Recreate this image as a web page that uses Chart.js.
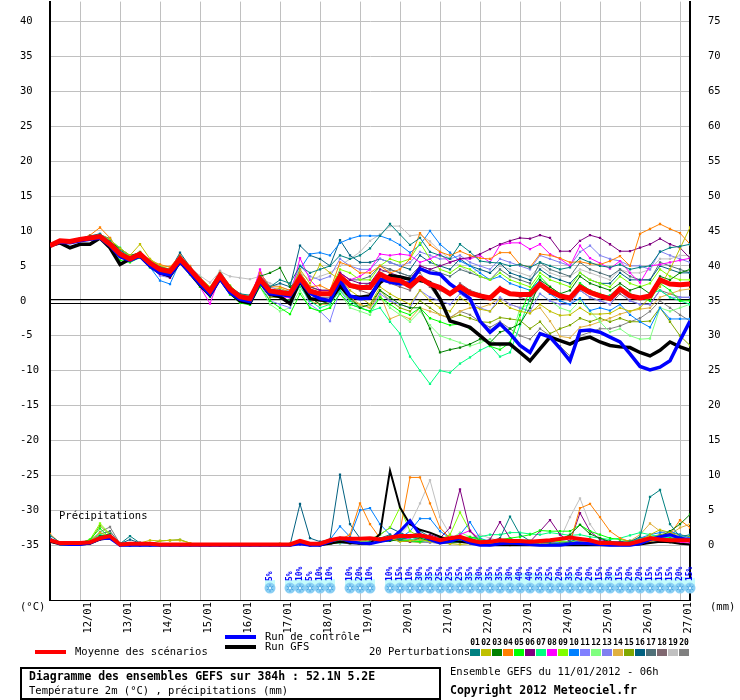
<!DOCTYPE html>
<html><head><meta charset="utf-8">
<script src="https://cdn.jsdelivr.net/npm/chart.js@4.4.1/dist/chart.umd.min.js"></script>
<style>html,body{margin:0;padding:0;background:#fff;}canvas{display:block;}</style>
</head><body>
<canvas id="c" width="740" height="700"></canvas>
<script>
// ---------------- DATA ----------------
const hours = [0,6,12,18,24,30,36,42,48,54,60,66,72,78,84,90,96,102,108,114,120,126,132,138,144,150,156,162,168,174,180,186,192,198,204,210,216,222,228,234,240,246,252,258,264,270,276,282,288,294,300,306,312,318,324,330,336,342,348,354,360,366,372,378,384];
const dateTicks = [18,42,66,90,114,138,162,186,210,234,258,282,306,330,354,378];
const dateLabels = ['12/01','13/01','14/01','15/01','16/01','17/01','18/01','19/01','20/01','21/01','22/01','23/01','24/01','25/01','26/01','27/01'];
const tempTicks = [-35,-30,-25,-20,-15,-10,-5,0,5,10,15,20,25,30,35,40];
const mmTicks = [0,5,10,15,20,25,30,35,40,45,50,55,60,65,70,75];

const tempMean = [7.9,8.6,8.5,8.8,9.0,9.2,8.1,6.7,6.0,6.7,5.4,4.5,4.2,6.0,4.5,2.9,1.4,3.6,1.7,0.6,0.3,3.1,1.4,1.2,1.0,3.3,1.4,1.0,1.0,3.5,2.2,1.9,1.9,3.8,3.1,2.9,2.1,3.3,2.4,1.9,1.0,2.0,1.1,0.7,0.4,1.7,1.0,0.9,0.9,2.4,1.4,0.7,0.4,2.0,1.2,0.7,0.3,1.7,0.7,0.4,0.7,3.0,2.4,2.3,2.4];
const tempControl = [7.9,8.4,8.3,8.6,8.8,9.0,7.9,6.3,5.8,6.4,5.0,4.0,3.7,5.6,4.0,2.4,0.9,3.2,1.2,0.2,-0.1,2.7,1.0,0.9,0.7,2.9,1.1,0.3,0.0,2.9,0.7,0.3,0.4,3.1,2.7,2.4,2.6,4.6,4.0,3.8,2.4,1.4,0.3,-2.9,-4.5,-3.3,-4.7,-6.4,-7.4,-4.7,-5.2,-6.8,-8.6,-4.3,-4.2,-4.5,-5.2,-5.9,-7.6,-9.4,-9.9,-9.5,-8.6,-5.7,-2.9];
const tempGFS = [7.9,8.3,7.6,8.1,8.1,9.0,7.6,5.2,6.0,6.4,5.0,4.0,3.6,5.6,4.0,2.3,0.8,3.2,1.2,0.0,-0.3,2.7,0.9,0.6,-0.4,2.9,0.3,0.1,0.0,2.1,0.6,0.5,0.7,2.6,3.6,3.4,3.1,2.9,2.6,0.3,-2.9,-3.3,-3.8,-5.0,-6.2,-6.2,-6.2,-7.4,-8.6,-6.9,-5.2,-5.7,-6.2,-5.5,-5.2,-5.9,-6.4,-6.6,-6.7,-7.4,-7.9,-7.1,-5.9,-6.6,-7.1];

const tempP01 = [7.9,8.7,8.6,8.9,9.3,9.6,8.5,7.0,6.2,6.8,5.6,4.8,4.5,6.3,4.8,3.2,1.7,3.9,2.0,1.0,0.8,3.5,2.0,3.0,2.5,5.0,4.0,4.5,5.0,6.5,6.0,6.5,7.5,9.3,11.0,9.5,8.0,9.0,7.0,6.5,6.0,8.1,7.0,5.7,5.5,5.4,5.0,5.2,4.8,5.5,5.0,4.5,4.8,6.1,5.5,5.0,4.8,5.2,4.5,4.8,5.0,7.0,7.6,7.8,8.1];
const tempP02 = [7.9,8.5,8.4,8.7,9.0,9.5,8.8,7.5,6.5,8.1,6.0,5.0,4.5,6.0,4.2,2.5,1.0,3.5,1.5,0.5,0.0,3.0,1.5,1.8,1.2,4.5,2.5,5.2,4.0,3.0,1.5,0.5,-0.5,2.0,1.0,0.2,-0.5,1.5,0.0,-1.0,-1.5,0.5,-0.5,-1.2,-1.5,0.0,-1.0,-1.5,-1.8,-0.5,-1.5,-2.1,-2.0,-1.0,-1.9,-1.9,-1.8,-1.0,-1.5,-1.0,0.5,2.0,4.5,7.5,10.5];
const tempP03 = [7.9,8.6,8.6,8.9,9.1,9.2,8.4,7.5,6.5,6.9,5.2,4.3,4.0,6.3,4.5,2.6,1.2,3.8,2.0,0.8,0.5,3.5,4.0,4.7,2.0,3.0,0.5,-0.5,0.0,2.5,0.5,-1.0,-0.5,1.5,0.5,-0.5,-1.0,-1.0,-4.0,-7.4,-7.0,-6.7,-6.2,-5.5,-6.0,-4.5,-4.0,-3.3,-1.0,3.0,2.0,1.0,1.5,3.5,2.5,2.0,1.5,2.5,1.5,2.0,1.0,3.5,3.0,4.0,4.5];
const tempP04 = [7.9,8.6,8.5,8.8,9.4,10.5,9.0,6.9,6.1,6.8,5.8,5.2,4.8,6.5,5.0,3.0,1.5,3.5,1.3,0.2,0.0,4.0,2.0,2.0,1.5,4.0,2.0,2.2,1.5,5.5,5.0,4.0,4.0,5.0,4.0,4.5,6.0,9.7,8.0,7.0,6.5,7.1,6.5,6.1,6.0,6.9,6.9,5.2,4.8,6.7,6.5,6.1,5.5,5.6,5.3,5.2,5.7,6.4,5.0,9.6,10.3,11.0,10.3,9.7,8.1];
const tempP05 = [7.9,8.5,8.4,8.6,8.8,9.0,7.6,5.8,5.5,6.2,4.8,4.0,3.6,5.5,3.8,2.0,0.6,3.0,0.9,-0.3,-0.6,2.0,0.0,-1.0,-1.9,1.0,-1.0,-1.5,-1.0,1.0,-0.5,-1.0,-1.5,0.5,-0.5,-1.5,-2.0,-1.0,-2.5,-3.0,-3.5,-3.3,-4.0,-5.0,-6.5,-7.0,-6.0,-2.0,1.5,3.5,2.0,1.0,0.5,2.5,1.5,1.0,0.5,2.0,1.0,0.5,0.0,2.5,1.5,0.0,0.0];
const tempP06 = [7.9,8.6,8.5,8.7,8.9,9.1,8.0,6.5,5.9,6.5,5.1,4.0,3.3,5.8,4.0,2.5,0.9,3.3,1.4,0.3,0.0,3.5,1.5,1.5,1.0,3.5,2.0,1.5,1.5,4.0,3.0,2.5,2.5,4.5,4.0,3.5,3.0,5.0,4.5,5.0,5.5,6.0,6.2,6.7,7.4,8.1,8.6,9.0,8.9,9.4,9.0,7.1,7.1,8.6,9.4,9.0,8.1,7.1,7.1,7.6,8.1,8.9,8.1,7.6,6.1];
const tempP07 = [7.9,8.6,8.6,8.9,9.1,9.3,8.7,7.6,6.2,6.9,5.8,4.9,4.5,6.2,4.7,3.1,1.6,3.8,1.9,0.5,0.1,3.0,1.0,0.5,0.0,2.0,0.0,-1.0,-0.5,1.5,0.0,-1.0,-1.5,-1.0,-3.0,-4.7,-8.0,-10.0,-11.9,-10.0,-10.3,-9.0,-8.1,-7.1,-6.4,-8.0,-7.4,-3.5,0.4,2.0,1.5,1.0,0.5,2.5,1.5,0.5,0.8,2.0,1.0,0.5,1.0,1.5,0.5,0.0,-0.5];
const tempP08 = [7.9,8.7,8.6,8.9,9.1,9.3,8.0,6.5,5.8,6.7,5.3,3.8,3.5,5.8,3.9,2.0,-0.4,3.5,1.2,-0.2,0.0,4.5,1.0,0.5,0.5,6.1,3.0,1.5,1.5,4.0,3.0,3.5,4.5,6.7,6.5,6.7,6.5,5.5,6.0,6.7,5.5,6.0,6.0,6.5,5.5,8.0,8.3,8.3,7.4,8.1,6.7,6.0,5.0,7.9,6.1,5.4,4.6,5.7,4.0,2.6,5.0,5.2,5.5,5.8,6.1];
const tempP09 = [7.9,8.6,8.5,8.8,9.0,9.3,8.3,7.0,6.3,7.0,5.6,4.6,4.3,6.2,4.6,3.3,2.0,4.0,2.2,0.9,0.6,3.5,1.5,1.0,1.0,3.5,2.0,1.5,1.5,4.5,4.0,3.0,3.0,5.0,6.0,5.5,6.0,8.3,6.0,4.5,4.0,5.0,4.5,3.5,3.0,4.0,3.0,2.5,2.0,4.0,3.0,2.5,2.0,4.0,3.0,2.5,2.0,3.5,2.5,2.0,2.5,4.5,3.5,3.0,3.0];
const tempP10 = [7.9,8.6,8.5,8.8,9.0,9.1,8.0,6.6,5.8,6.5,4.8,2.9,2.4,5.6,4.2,2.7,1.2,3.4,1.5,0.4,0.0,3.0,1.5,1.0,1.0,4.5,6.7,6.9,6.5,8.3,8.9,9.3,9.3,9.3,8.8,8.0,6.9,8.0,10.0,8.1,6.9,5.7,5.0,4.0,3.0,3.5,2.5,2.0,1.5,3.0,1.0,0.0,-0.5,0.4,-1.4,-1.0,-1.4,-0.5,-2.0,-3.0,-3.8,-1.0,-2.6,-2.6,-2.6];
const tempP11 = [7.9,8.6,8.6,8.8,9.1,9.6,8.6,6.9,5.7,6.3,4.9,3.6,3.3,5.7,4.2,2.6,1.0,3.2,1.2,0.1,-0.3,2.5,0.0,-0.5,-1.0,2.5,-0.5,-1.5,-2.9,1.5,-0.5,-1.0,-1.5,1.0,0.0,-0.5,-1.0,1.5,0.5,0.0,-0.5,1.0,0.0,-1.0,-1.5,0.5,-0.5,-1.0,-1.5,1.0,0.0,-0.5,-0.5,1.5,0.5,0.0,-0.5,1.5,0.0,-0.5,-0.5,1.5,0.5,0.5,0.5];
const tempP12 = [7.9,8.6,8.5,8.8,8.9,9.1,8.0,6.6,6.0,6.6,5.3,4.4,4.0,5.8,4.3,2.6,1.0,3.3,1.3,0.0,-0.2,2.0,-0.5,-1.5,-1.0,1.5,-1.0,-1.5,-1.0,1.0,-1.0,-1.5,-2.0,0.5,-1.0,-2.0,-3.0,-1.5,-3.5,-5.0,-5.5,-6.0,-6.5,-6.0,-5.5,-6.5,-6.0,-1.0,-0.5,1.0,0.0,-1.0,-1.5,0.0,-1.5,-3.0,-4.5,-4.0,-5.0,-5.5,-5.4,-1.0,-1.5,-1.0,-0.5];
const tempP13 = [7.9,8.6,8.5,8.9,9.1,9.4,8.3,6.8,6.1,6.8,5.5,4.6,4.3,6.1,4.6,3.0,1.5,3.7,1.8,0.8,0.5,4.0,2.0,1.5,1.5,5.0,3.5,3.0,3.5,6.0,5.0,4.5,4.5,6.0,5.5,5.0,5.5,7.0,6.5,6.0,6.0,6.5,5.5,5.0,4.5,6.0,5.5,5.0,4.5,6.5,6.0,5.5,5.0,7.0,7.9,6.5,6.0,5.7,5.0,5.0,4.5,7.1,6.5,6.0,5.5];
const tempP14 = [7.9,8.6,8.5,8.8,9.0,9.2,8.2,6.8,6.2,7.0,5.8,5.0,4.9,6.1,4.3,2.5,1.2,3.5,1.5,0.5,0.2,3.0,1.0,0.5,0.0,3.0,0.0,-0.5,-0.5,2.5,0.5,-0.5,-1.0,1.0,-2.6,-2.0,-2.6,-1.0,-1.5,-2.0,-2.5,-1.5,-1.0,-1.0,-0.5,0.4,-0.5,-1.0,-1.5,-1.0,-2.9,-5.1,-5.3,-3.8,-3.5,-3.0,-2.5,-1.9,-1.5,-1.2,-1.0,0.5,1.0,1.5,1.7];
const tempP15 = [7.9,8.6,8.5,8.8,9.0,9.2,8.1,6.7,6.1,6.8,5.4,4.4,4.1,6.0,4.4,2.8,1.3,3.5,1.6,0.5,0.1,2.5,0.5,0.5,0.0,2.5,0.5,-0.5,0.0,2.0,0.0,-0.5,-1.0,1.5,0.0,-1.0,-1.5,0.0,-1.0,-2.0,-2.5,-2.0,-2.5,-3.0,-3.1,-2.4,-2.6,-2.8,-4.0,-3.0,-4.7,-4.0,-3.5,-2.5,-3.0,-2.5,-3.0,-2.5,-3.0,-3.0,-2.9,-1.0,-3.0,-5.0,-6.4];
const tempP16 = [7.9,8.6,8.5,8.8,9.1,9.3,8.9,7.3,6.3,6.9,5.6,4.7,4.4,6.9,4.9,3.2,1.6,3.9,2.0,0.8,0.4,4.0,2.0,2.5,2.0,7.9,6.5,6.0,5.0,8.7,6.5,5.5,5.5,6.0,5.5,5.0,4.5,6.5,5.5,5.0,4.5,6.0,5.0,4.5,4.0,5.4,4.0,3.5,3.0,4.5,3.5,3.0,2.5,4.0,3.0,2.5,2.5,4.0,3.0,3.0,3.0,5.0,4.5,4.0,4.0];
const tempP17 = [7.9,8.6,8.5,8.8,9.0,9.2,8.2,6.8,6.1,6.8,5.5,4.6,4.3,6.1,4.6,3.0,1.5,3.7,1.8,0.7,0.4,3.5,1.5,1.0,1.0,4.0,2.0,1.5,1.5,4.0,3.0,3.0,3.5,5.0,4.5,4.0,3.5,5.0,4.5,4.0,3.5,4.5,4.0,3.5,3.0,4.5,3.5,3.0,2.5,5.5,4.5,4.0,3.5,5.5,4.5,4.0,3.5,4.5,3.5,3.0,3.0,5.5,5.0,4.5,4.0];
const tempP18 = [7.9,8.6,8.5,8.8,9.0,9.2,8.1,6.8,6.0,6.7,5.4,4.5,4.2,6.0,4.5,2.9,1.4,3.6,1.7,0.6,0.3,3.0,1.0,1.0,0.5,3.0,1.0,0.5,0.5,3.0,2.0,1.5,1.0,3.0,2.5,2.0,1.5,3.0,2.0,1.5,1.0,2.5,1.5,1.0,0.5,2.0,1.0,0.5,0.0,2.0,1.0,0.5,0.0,1.5,0.5,0.0,-0.5,1.0,0.0,-0.5,-0.5,1.5,1.0,0.5,0.5];
const tempP19 = [7.9,8.6,8.5,8.8,9.0,9.2,8.2,6.9,6.1,6.8,5.5,4.7,4.5,6.2,4.8,3.6,2.6,4.2,3.5,3.3,3.1,3.5,2.5,2.0,1.5,4.0,3.0,3.5,4.0,5.0,6.0,7.0,8.6,9.5,10.7,10.7,9.3,9.5,8.5,7.1,6.0,5.0,4.0,4.5,4.0,5.0,4.5,4.0,3.5,5.0,4.0,3.5,3.5,4.5,4.0,3.5,3.0,4.5,4.0,4.0,4.5,6.0,6.0,6.5,6.5];
const tempP20 = [7.9,8.6,8.5,8.8,9.1,9.5,8.9,7.2,6.2,6.9,5.6,4.7,4.4,6.6,4.8,3.3,1.8,4.3,2.0,1.0,0.6,3.5,1.5,1.0,0.5,4.0,1.5,1.0,1.0,3.5,2.0,2.0,2.5,4.0,4.5,4.0,3.5,4.0,2.0,0.0,-2.4,-1.5,-2.0,-3.0,-3.8,-3.0,-4.0,-5.0,-5.5,-4.0,-5.0,-6.5,-7.9,-5.0,-4.5,-4.0,-4.0,-3.6,-3.0,-2.5,-1.5,0.0,-1.0,-2.0,-2.9];

const precMean = [0.7,0.3,0.3,0.3,0.4,1.0,1.3,0.1,0.2,0.2,0.2,0.1,0.1,0.1,0.1,0.1,0.1,0.1,0.1,0.1,0.1,0.1,0.1,0.1,0.1,0.6,0.2,0.2,0.7,1.0,0.9,0.9,1.0,0.8,1.1,1.3,1.3,1.4,1.1,0.7,1.0,1.2,0.7,0.4,0.5,0.7,0.6,0.6,0.5,0.6,0.7,0.9,1.1,0.9,0.7,0.3,0.3,0.2,0.2,0.6,1.0,0.8,0.7,0.7,0.7];
const precControl = [0.8,0.2,0.1,0.1,0.3,0.9,1.0,0,0,0,0,0,0,0,0,0,0,0,0,0,0,0,0,0,0,0.2,0,0,0.5,1.0,0.5,0.3,0.2,0.5,0.8,2.0,3.5,1.5,0.8,0.3,0.5,1.0,0.3,0,0,0.2,0.3,0.2,0.1,0,0,0,0.2,0.3,0.2,0.1,0,0,0,0.2,0.8,1.2,1.5,1.0,0.8];
const precGFS = [0.5,0.1,0.1,0.1,0.2,0.8,1.0,0,0,0,0,0,0,0,0,0,0,0,0,0,0,0,0,0,0,0.3,0,0,0.2,0.5,0.3,0.2,0.2,1.6,10.7,5.4,3.0,2.2,1.8,1.2,0.7,0.5,0.3,0.1,0,0,0,0,0,0,0,0,0,0,0,0,0,0,0,0.1,0.3,0.5,0.4,0.2,0.1];
const precP01 = [1.4,0.4,0.2,0.2,0.4,1.2,1.5,0.2,1.3,0.3,0.2,0.1,0,0,0,0,0,0,0,0,0,0,0,0,0,0.2,0.1,0,0.3,0.8,0.5,0.3,0.5,1.0,1.5,0.8,1.2,2.0,1.2,0.8,0.5,0.5,0.8,0.3,0.5,1.0,4.1,1.5,0.6,0.5,0.3,0.2,0.5,1.0,0.6,0.3,0.2,0.3,0.5,1.2,6.9,7.9,3.0,1.2,1.5];
const precP02 = [0.6,0.3,0.1,0.3,0.5,1.8,1.2,0.2,0.2,0.3,0.7,0.6,0.7,0.7,0.3,0,0,0,0,0,0,0,0,0,0,0.3,0,0,0.2,0.4,0.3,0.2,0.4,0.8,1.0,0.5,0.6,0.8,0.5,0.3,0.2,0.1,0.2,0.1,0.2,0.1,0,0.1,0.2,0.3,0.2,0.1,0.1,0.5,0.8,0.4,0.2,0.1,0.1,0.6,1.5,2.2,1.8,1.2,0.8];
const precP03 = [0.5,0.2,0.1,0.2,0.4,1.3,1.6,0.1,0.1,0.1,0.1,0,0,0,0,0,0,0,0,0,0,0,0,0,0,0.2,0,0,0.3,0.6,0.4,0.3,0.2,0.5,0.6,0.8,1.2,1.0,0.6,0.4,0.3,0.5,0.6,0.3,0.2,0.3,0.5,0.4,0.2,0.3,0.5,0.8,1.5,2.9,1.6,1.0,0.5,0.3,0.4,0.6,0.8,1.2,2.0,3.0,4.4];
const precP04 = [1.6,0.3,0.1,0.2,0.6,1.0,1.2,0.1,0.1,0,0,0,0,0,0,0,0,0,0,0,0,0,0,0,0,0.3,0,0.1,0.3,0.8,1.5,6.0,3.0,1.0,0.8,2.0,9.7,9.7,6.0,2.5,1.0,0.8,0.5,0.3,0.5,0.4,0.3,0.3,0.2,0.4,0.3,0.2,0.4,5.3,5.9,4.0,2.0,1.0,0.5,0.3,0.5,1.0,1.5,3.6,2.5];
const precP05 = [0.6,0.2,0.2,0.3,0.8,2.4,1.0,0.1,0.1,0.1,0,0,0,0,0,0,0,0,0,0,0,0,0,0,0,0.2,0,0,0.2,0.5,0.3,0.2,0.3,0.6,1.0,0.8,0.6,0.5,0.8,1.0,0.6,1.0,1.2,0.8,0.6,0.8,1.0,1.2,1.5,2.1,2.0,2.0,2.0,2.9,2.0,1.5,1.0,0.8,0.6,0.5,0.6,0.8,1.0,0.9,0.8];
const precP06 = [0.4,0.2,0.1,0.1,0.3,0.8,0.9,0,0,0,0,0,0,0,0,0,0,0,0,0,0,0,0,0,0,0.1,0,0,0.2,0.4,0.3,0.2,0.2,0.5,0.8,0.6,0.5,1.0,1.5,1.0,2.5,8.0,2.0,0.5,0.8,3.3,1.0,0.4,0.5,2.0,3.6,1.5,0.5,4.6,2.0,0.8,0.5,0.4,0.3,0.5,0.8,1.0,0.8,0.6,0.5];
const precP07 = [0.5,0.3,0.1,0.2,0.5,1.5,1.3,0.2,0.2,0.1,0,0,0,0,0,0,0,0,0,0,0,0,0,0,0,0.2,0,0,0.2,0.3,0.4,0.3,0.3,0.5,0.7,0.6,0.8,1.0,0.8,0.6,0.5,0.7,1.0,1.2,1.5,1.5,1.8,1.8,1.6,1.5,1.8,1.6,1.4,1.5,1.2,1.0,0.8,1.0,1.4,1.8,1.5,1.2,1.0,0.8,0.6];
const precP08 = [0.7,0.2,0.1,0.1,0.3,0.9,1.0,0,0,0,0,0,0,0,0,0,0,0,0,0,0,0,0,0,0,0.2,0,0,0.3,0.5,0.4,0.3,0.4,0.7,1.0,0.8,1.0,1.6,1.2,0.8,0.6,1.5,2.1,0.8,0.4,0.3,0.5,0.4,0.3,0.2,0.3,0.2,0.2,0.5,0.4,0.3,0.2,0.2,0.3,0.5,0.8,0.6,0.5,0.4,0.3];
const precP09 = [0.8,0.3,0.2,0.3,0.8,3.1,1.6,0.1,0.1,0.1,0,0,0,0,0,0,0,0,0,0,0,0,0,0,0,0.3,0,0,0.4,0.8,0.6,0.5,0.8,1.5,2.5,5.4,2.0,1.2,1.0,0.8,1.5,4.7,2.0,0.6,0.4,0.5,0.6,0.5,0.4,0.5,0.6,0.5,0.4,1.0,0.8,0.5,0.4,0.3,0.5,0.8,1.0,0.9,0.8,0.7,0.6];
const precP10 = [0.9,0.2,0.1,0.2,0.4,1.1,1.3,0.1,0,0,0,0,0,0,0,0,0,0,0,0,0,0,0,0,0,0.3,0.1,0.2,0.8,2.7,1.2,5.0,5.3,3.0,1.5,1.0,2.0,3.8,3.8,2.0,1.0,1.5,3.3,1.0,0.5,0.4,0.5,0.3,0.3,0.4,0.5,0.4,0.3,0.6,0.8,0.5,0.4,0.3,0.5,1.0,1.5,1.8,2.0,1.5,1.0];
const precP11 = [0.5,0.2,0.1,0.2,0.4,1.0,1.1,0,0,0,0,0,0,0,0,0,0,0,0,0,0,0,0,0,0,0.1,0,0,0.2,0.3,0.2,0.2,0.3,0.5,0.6,0.8,0.6,0.5,0.4,0.3,0.4,0.6,0.5,0.3,0.2,0.2,0.3,0.2,0.1,0.2,0.3,0.2,0.2,0.4,0.3,0.2,0.1,0.1,0.3,0.6,0.8,1.0,1.2,1.0,0.8];
const precP12 = [0.6,0.2,0.1,0.2,0.5,1.2,1.0,0.1,0,0,0,0,0,0,0,0,0,0,0,0,0,0,0,0,0,0.1,0,0,0.2,0.4,0.3,0.4,0.5,0.8,1.2,1.0,0.8,0.6,0.5,0.6,0.8,1.8,1.2,0.6,0.4,0.5,0.6,0.8,0.7,0.6,0.5,0.6,0.5,0.8,0.6,0.5,0.4,0.3,0.4,0.5,0.6,0.8,1.0,0.9,0.7];
const precP13 = [0.5,0.2,0.1,0.2,0.4,1.1,1.2,0,0,0,0,0,0,0,0,0,0,0,0,0,0,0,0,0,0,0.2,0,0,0.2,0.3,0.2,0.3,0.4,0.6,0.8,1.0,0.8,0.6,0.5,0.4,0.3,0.5,0.6,0.4,0.3,0.2,0.3,0.2,0.2,0.3,0.2,0.2,0.3,0.5,0.4,0.3,0.2,0.2,0.3,0.5,1.0,1.3,1.2,1.0,0.9];
const precP14 = [0.7,0.3,0.1,0.2,0.5,1.4,1.2,0.1,0.1,0,0,0,0,0,0,0,0,0,0,0,0,0,0,0,0,0.2,0,0,0.3,0.5,0.4,0.3,0.5,0.8,1.0,0.8,0.6,0.5,0.6,0.8,0.5,0.4,0.6,0.4,0.3,0.2,0.3,0.4,0.3,0.2,0.3,0.2,0.4,0.6,0.5,0.3,0.2,0.3,0.6,1.5,3.1,2.0,1.5,2.5,3.0];
const precP15 = [0.6,0.2,0.1,0.2,0.6,2.8,1.4,0.1,0.1,0.2,0.2,0.6,0.7,0.8,0.3,0,0,0,0,0,0,0,0,0.2,0.2,0.4,0.1,0.1,0.5,0.7,0.5,0.4,0.5,0.8,1.0,0.7,0.5,0.4,0.5,0.6,0.4,0.5,0.6,0.4,0.3,0.2,0.3,0.3,0.2,0.2,0.3,0.2,0.2,0.4,0.3,0.2,0.2,0.3,0.5,1.0,1.2,1.5,1.8,1.5,1.2];
const precP16 = [1.0,0.3,0.2,0.2,0.5,1.3,1.5,0.2,0.8,0.3,0.1,0,0,0,0,0,0,0,0,0,0,0,0,0,0,5.9,1.0,0.5,0.8,10.1,3.0,1.0,0.8,1.5,2.5,1.8,1.2,0.8,0.6,0.5,0.5,0.8,1.0,0.6,0.4,0.5,0.8,0.6,0.5,0.4,0.5,0.6,0.5,0.8,0.6,0.5,0.4,0.5,0.6,0.8,1.0,1.2,1.0,0.8,0.7];
const precP17 = [0.8,0.3,0.1,0.2,0.5,1.6,2.0,0.2,0.2,0.1,0,0,0,0,0,0,0,0,0,0,0,0,0,0,0,0.3,0,0,0.2,0.6,0.5,0.4,0.5,0.8,1.2,1.0,0.8,0.6,0.8,0.5,0.4,0.6,0.8,0.5,0.4,0.3,0.4,0.3,0.3,0.4,0.3,0.3,0.4,0.8,0.6,0.5,0.4,0.3,0.5,0.8,1.0,1.4,1.2,1.0,0.8];
const precP18 = [0.5,0.2,0.1,0.1,0.4,1.2,1.4,0.1,0,0,0,0,0,0,0,0,0,0,0,0,0,0,0,0,0,0.2,0,0,0.2,0.4,0.3,0.3,0.4,0.6,0.8,0.6,0.5,0.6,0.4,0.3,0.3,0.4,0.5,0.3,0.2,0.2,0.3,0.2,0.2,0.2,0.3,0.2,0.2,0.4,0.3,0.2,0.2,0.2,0.3,0.5,0.6,0.8,0.7,0.6,0.5];
const precP19 = [0.6,0.2,0.1,0.2,0.4,1.2,1.3,0.1,0,0,0,0,0,0,0,0,0,0,0,0,0,0,0,0,0,0.2,0,0,0.3,0.5,0.4,0.3,0.4,0.8,1.2,1.5,3.0,6.0,9.3,4.0,1.5,0.8,1.0,1.5,1.0,0.6,0.5,0.4,0.3,0.4,0.5,0.8,4.0,6.7,3.0,1.0,0.5,0.4,0.5,0.8,1.0,1.5,1.2,1.0,0.8];
const precP20 = [0.7,0.3,0.2,0.2,0.6,1.9,2.6,0.2,0.3,0.4,0.2,0,0,0,0,0,0,0,0,0,0,0,0,0,0,0.2,0,0,0.2,0.4,0.3,0.3,0.4,0.6,0.8,0.6,0.5,0.5,0.4,0.3,0.3,0.4,0.5,0.3,0.2,0.2,0.2,0.2,0.1,0.1,0.1,0.1,0.2,0.3,0.2,0.1,0.1,0.1,0.2,0.3,0.4,0.5,0.4,0.3,0.2];

const snowHours = [132,144,150,156,162,168,180,186,192,204,210,216,222,228,234,240,246,252,258,264,270,276,282,288,294,300,306,312,318,324,330,336,342,348,354,360,366,372,378,384];
const snowPct = [5,5,10,5,10,10,10,20,10,10,15,10,30,35,25,25,25,35,30,35,35,30,40,40,35,25,20,35,20,20,15,30,15,20,20,15,15,15,20,15];

// ---------------- STYLE ----------------
const tempPerts = [tempP01,tempP02,tempP03,tempP04,tempP05,tempP06,tempP07,tempP08,tempP09,tempP10,tempP11,tempP12,tempP13,tempP14,tempP15,tempP16,tempP17,tempP18,tempP19,tempP20];
const precPerts = [precP01,precP02,precP03,precP04,precP05,precP06,precP07,precP08,precP09,precP10,precP11,precP12,precP13,precP14,precP15,precP16,precP17,precP18,precP19,precP20];
const pertColors = ['#008080','#c0c000','#008000','#ff8000','#00ff00','#800080','#00ff80','#ff00ff','#80ff00','#0080ff','#8080ff','#80ff80','#8080f0','#e0b040','#80a800','#006080','#507078','#806870','#c0c0c0','#808080'];
const MONO = '"DejaVu Sans Mono", monospace';
const Y_MIN = -300/7, Y_MAX = 300/7, MM_OFFSET = 35, SNOW_LEVEL = -41.15;

function series(vals, axis, color, width, radius, order) {
  return {
    data: hours.map((h, i) => ({x: h, y: vals[i]})),
    xAxisID: 'x', yAxisID: axis,
    borderColor: color, backgroundColor: color,
    borderWidth: width, pointRadius: radius, pointHoverRadius: radius,
    pointStyle: 'rect', pointBorderWidth: 0, pointBackgroundColor: color,
    fill: false, tension: 0, order: order
  };
}

const datasets = [];
datasets.push(series(tempMean, 'y', '#ff0000', 5, 0, 0));
datasets.push(series(precMean, 'y2', '#ff0000', 4, 0, 0));
datasets.push(series(tempControl, 'y', '#0000ff', 3.5, 0, 1));
datasets.push(series(precControl, 'y2', '#0000ff', 3, 0, 1));
datasets.push(series(tempGFS, 'y', '#000000', 3.5, 0, 2));
datasets.push(series(precGFS, 'y2', '#000000', 2, 0, 2));
tempPerts.forEach((p, k) => datasets.push(series(p, 'y', pertColors[k], 1, 1.6, 3 + k)));
precPerts.forEach((p, k) => datasets.push(series(p, 'y2', pertColors[k], 1, 1.6, 3 + k)));

function drawFlake(ctx, cx, cy) {
  ctx.beginPath(); ctx.arc(cx, cy, 5.5, 0, Math.PI * 2);
  ctx.fillStyle = '#8cd0f4'; ctx.fill();
  ctx.strokeStyle = '#4aa6e4'; ctx.lineWidth = 1;
  for (let k = 0; k < 3; k++) {
    const a = k * Math.PI / 3 + Math.PI / 6;
    ctx.beginPath();
    ctx.moveTo(cx + 4 * Math.cos(a), cy + 4 * Math.sin(a));
    ctx.lineTo(cx - 4 * Math.cos(a), cy - 4 * Math.sin(a));
    ctx.stroke();
  }
  ctx.fillStyle = '#e6f7ff'; ctx.fillRect(cx - 1, cy - 1, 2, 2);
}

const noPad = s => { s.paddingTop = 0; s.paddingBottom = 0; s.paddingLeft = 0; s.paddingRight = 0; };

const decor = {
  id: 'decor',
  beforeDatasetsDraw(chart) {
    const {ctx, chartArea: a, scales: {x, y}} = chart;
    ctx.save();
    const y0 = Math.round(y.getPixelForValue(0));
    ctx.strokeStyle = '#000'; ctx.lineWidth = 1;
    [-2, 2].forEach(d => {
      ctx.beginPath(); ctx.moveTo(a.left, y0 + d + 0.5); ctx.lineTo(a.right, y0 + d + 0.5); ctx.stroke();
    });
    const base = y.getPixelForValue(SNOW_LEVEL);
    ctx.fillStyle = '#c4fcfc';
    snowHours.forEach((h, i) => {
      const px = x.getPixelForValue(h);
      const top = base - 7 - snowPct[i] * 0.2;
      ctx.fillRect(px - 5, top, 10, base - top);
    });
    ctx.restore();
  },
  afterDatasetsDraw(chart) {
    const {ctx, scales: {x, y}} = chart;
    ctx.save();
    const base = y.getPixelForValue(SNOW_LEVEL);
    snowHours.forEach((h) => drawFlake(ctx, x.getPixelForValue(h), base));
    ctx.fillStyle = '#0000ff';
    ctx.font = 'bold 8px ' + MONO;
    ctx.textAlign = 'left'; ctx.textBaseline = 'middle';
    snowHours.forEach((h, i) => {
      ctx.save();
      ctx.translate(x.getPixelForValue(h), base - 7);
      ctx.rotate(-Math.PI / 2);
      ctx.fillText(snowPct[i] + '%', 0, 0);
      ctx.restore();
    });
    ctx.restore();
  },
  afterDraw(chart) {
    const {ctx} = chart;
    ctx.save();
    ctx.fillStyle = '#000';
    ctx.textBaseline = 'middle'; ctx.textAlign = 'left';
    ctx.font = '10.5px ' + MONO;
    ctx.fillText('Précipitations', 59, 516);
    ctx.fillText('(°C)', 20, 607);
    ctx.fillText('(mm)', 710, 607);
    ctx.fillStyle = '#ff0000'; ctx.fillRect(35, 650, 31, 4);
    ctx.fillStyle = '#0000ff'; ctx.fillRect(225, 635, 31, 4);
    ctx.fillStyle = '#000000'; ctx.fillRect(225, 645, 31, 4);
    ctx.fillStyle = '#000';
    ctx.fillText('Moyenne des scénarios', 75, 652);
    ctx.fillText('Run de contrôle', 265, 637.5);
    ctx.fillText('Run GFS', 265, 647.5);
    ctx.fillText('20 Perturbations', 369, 652);
    ctx.font = 'bold 8px ' + MONO;
    ctx.textAlign = 'center';
    pertColors.forEach((c, k) => {
      const sx = 470 + k * 11;
      ctx.fillStyle = c; ctx.fillRect(sx, 649, 10, 7);
      ctx.fillStyle = '#000';
      ctx.fillText(String(k + 1).padStart(2, '0'), sx + 5, 643);
    });
    ctx.strokeStyle = '#000'; ctx.lineWidth = 2;
    ctx.strokeRect(21, 668, 419, 31);
    ctx.textAlign = 'left';
    ctx.font = 'bold 11.5px ' + MONO;
    ctx.fillText('Diagramme des ensembles GEFS sur 384h : 52.1N 5.2E', 29, 677);
    ctx.font = '10.5px ' + MONO;
    ctx.fillText('Température 2m (°C) , précipitations (mm)', 29, 691);
    ctx.fillText('Ensemble GEFS du 11/01/2012 - 06h', 450, 672);
    ctx.font = 'bold 11.5px ' + MONO;
    ctx.fillText('Copyright 2012 Meteociel.fr', 450, 691);
    ctx.restore();
  }
};

new Chart(document.getElementById('c'), {
  type: 'line',
  data: { datasets },
  options: {
    responsive: false, animation: false, devicePixelRatio: 1,
    layout: { padding: { left: 20, right: 0, top: 0, bottom: 0 } },
    plugins: { legend: { display: false }, tooltip: { enabled: false } },
    scales: {
      x: {
        type: 'linear', position: 'bottom', min: 0, max: 384,
        afterFit: s => { s.height = 100; noPad(s); },
        afterBuildTicks: s => { s.ticks = dateTicks.map(v => ({ value: v })); },
        ticks: {
          autoSkip: false, minRotation: 90, maxRotation: 90, padding: 2, labelOffset: 8,
          color: '#000', font: { family: MONO, size: 10.5 },
          callback: v => dateLabels[dateTicks.indexOf(v)]
        },
        grid: { color: '#c0c0c0', drawTicks: false },
        border: { color: '#000', width: 1 }
      },
      y: {
        type: 'linear', position: 'left', min: Y_MIN, max: Y_MAX,
        afterFit: s => { s.width = 30; noPad(s); },
        afterBuildTicks: s => { s.ticks = tempTicks.map(v => ({ value: v })); },
        ticks: { crossAlign: 'far', color: '#000', font: { family: MONO, size: 10.5 }, callback: v => String(v) },
        grid: { color: '#c0c0c0', drawTicks: false },
        border: { color: '#000', width: 2 }
      },
      y2: {
        type: 'linear', position: 'right', min: Y_MIN + MM_OFFSET, max: Y_MAX + MM_OFFSET,
        afterFit: s => { s.width = 50; noPad(s); },
        afterBuildTicks: s => { s.ticks = mmTicks.map(v => ({ value: v })); },
        ticks: { crossAlign: 'near', padding: 18, color: '#000', font: { family: MONO, size: 10.5 }, callback: v => String(v) },
        grid: { color: 'rgba(0,0,0,0)', drawTicks: false },
        border: { color: '#000', width: 2 }
      }
    }
  },
  plugins: [decor]
});
</script>
</body></html>
